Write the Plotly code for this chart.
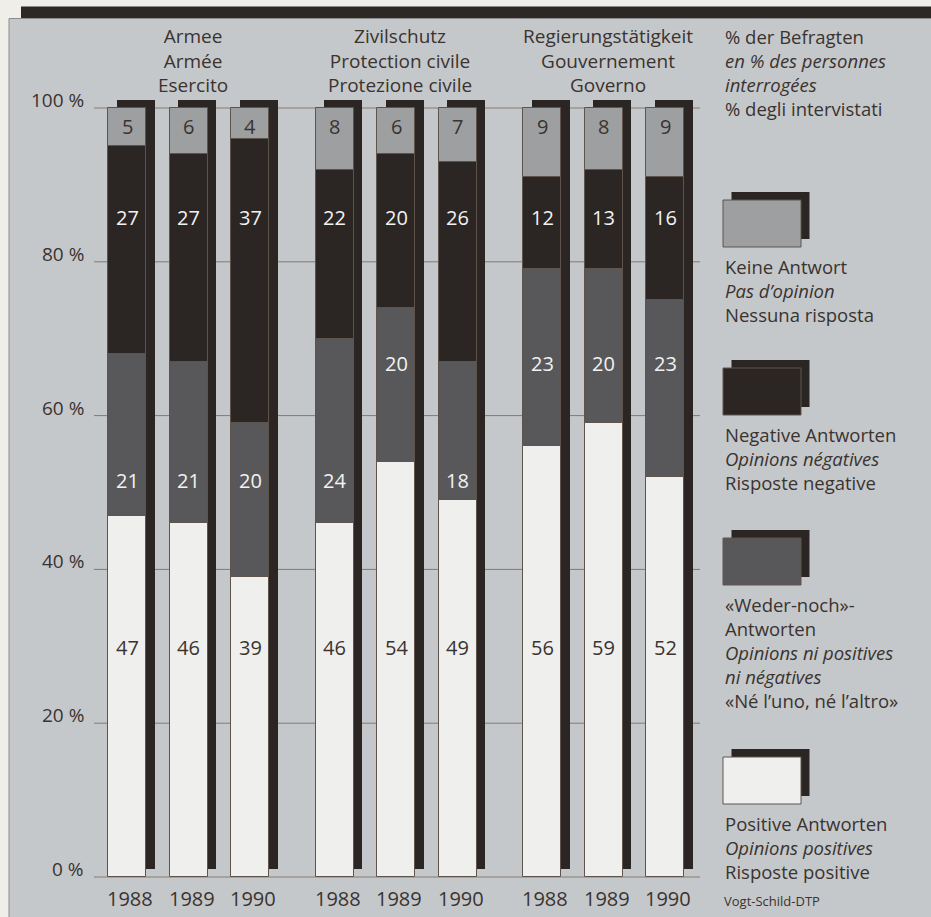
import plotly.graph_objects as go

# ---------------- data ----------------
groups_de = ["Armee", "Zivilschutz", "Regierungstätigkeit"]
groups_fr = ["Armée", "Protection civile", "Gouvernement"]
groups_it = ["Esercito", "Protezione civile", "Governo"]
years = ["1988", "1989", "1990"]

positive = [47, 46, 39, 46, 54, 49, 56, 59, 52]
neither = [21, 21, 20, 24, 20, 18, 23, 20, 23]
negative = [27, 27, 37, 22, 20, 26, 12, 13, 16]
no_answer = [5, 6, 4, 8, 6, 7, 9, 8, 9]

y_ticks = [0, 20, 40, 60, 80, 100]
y_tick_labels = ["0 %", "20 %", "40 %", "60 %", "80 %", "100 %"]

series_names = [
    ["Keine Antwort", "<i>Pas d’opinion</i>", "Nessuna risposta"],
    ["Negative Antworten", "<i>Opinions négatives</i>", "Risposte negative"],
    ["«Weder-noch»-", "Antworten", "<i>Opinions ni positives</i>", "<i>ni négatives</i>", "«Né l’uno, né l’altro»"],
    ["Positive Antworten", "<i>Opinions positives</i>", "Risposte positive"],
]
unit_lines = ["% der Befragten", "<i>en % des personnes</i>", "<i>interrogées</i>", "% degli intervistati"]
credit = "Vogt-Schild-DTP"

# ---------------- style / layout ----------------
W, H = 931, 917
Y0, PPU = 877.0, 7.69          # pixel of 0 %, pixels per percent


def pct(py):
    return (Y0 - py) / PPU


FONT = "Open Sans"
TXT = "#3a3330"
PAGE = "#efeee8"
PANEL = "#c5c8ca"
C_POS, C_NEI, C_NEG, C_NO = "#eff0ee", "#58585a", "#2b2523", "#9d9fa0"
SHADOW = "#2b2523"
OUTLINE = "#5e544c"
GRID = "#857a70"

BAR_W = 38
SHIFT_X, SHIFT_Y = 8.5, 8.0
FIRST_LEFT, STEP_BAR, STEP_GROUP = 108, 61.5, 207.5

n = len(positive)
centers = [FIRST_LEFT + BAR_W / 2 + STEP_GROUP * (k // 3) + STEP_BAR * (k % 3) for k in range(n)]

b_nei = [p for p in positive]
b_neg = [p + q for p, q in zip(positive, neither)]
b_no = [p + q + r for p, q, r in zip(positive, neither, negative)]
totals = [a + b for a, b in zip(b_no, no_answer)]

fig = go.Figure()

# shadows
fig.add_trace(go.Bar(
    x=[c + SHIFT_X for c in centers], y=totals, base=[SHIFT_Y / PPU] * n, width=BAR_W,
    marker=dict(color=SHADOW, line=dict(width=0)), hoverinfo="skip", showlegend=False))

for vals, base, col in [(positive, [0] * n, C_POS), (neither, b_nei, C_NEI),
                        (negative, b_neg, C_NEG), (no_answer, b_no, C_NO)]:
    fig.add_trace(go.Bar(
        x=centers, y=vals, base=base, width=BAR_W,
        marker=dict(color=col, line=dict(color=OUTLINE, width=1)),
        showlegend=False))

ann = []
shapes = []


def text_at(x, py, s, size, anchor="left", color=TXT):
    ann.append(dict(x=x, y=pct(py), xref="x", yref="y", text=s, showarrow=False,
                    xanchor=anchor, yanchor="middle",
                    font=dict(family=FONT, size=size, color=color)))


def block_at(x, py_first, lines, size, anchor="left"):
    # multi-line block; py_first = centre of first line (pixels)
    spacing = 1.3 * size
    centre = py_first + (len(lines) - 1) * spacing / 2
    ann.append(dict(x=x, y=pct(centre), xref="x", yref="y", text="<br>".join(lines),
                    showarrow=False, xanchor=anchor, yanchor="middle", align=anchor,
                    font=dict(family=FONT, size=size, color=TXT)))


# background panel and top band
shapes.append(dict(type="rect", xref="x", yref="y", x0=9, x1=W + 5, y0=pct(H + 5), y1=pct(18.5),
                   fillcolor=PANEL, line=dict(color="#8c8c8c", width=1), layer="below"))
shapes.append(dict(type="rect", xref="x", yref="y", x0=21, x1=W + 5, y0=pct(18), y1=pct(6.5),
                   fillcolor="#2d2826", line=dict(width=0), layer="below"))

# gridlines + tick labels
for t, lab in zip(y_ticks, y_tick_labels):
    shapes.append(dict(type="line", xref="x", yref="y", x0=94, x1=700, y0=t, y1=t,
                       line=dict(color=GRID, width=1), layer="below"))
    ann.append(dict(x=86, y=t, xref="x", yref="y", text=lab, showarrow=False,
                    xanchor="right", yanchor="middle", yshift=8,
                    font=dict(family=FONT, size=19, color=TXT)))

# value labels (fixed label heights as in the original)
label_y_pos = [29.9] * n
label_y_nei = [51.6, 51.6, 51.6, 51.6, 66.8, 51.6, 66.8, 66.8, 66.8]
label_y_neg = [85.8] * n
label_y_no = [97.6] * n
for k in range(n):
    for v, yy, col in [(positive[k], label_y_pos[k], TXT), (neither[k], label_y_nei[k], "#f2f2f2"),
                       (negative[k], label_y_neg[k], "#f2f2f2"), (no_answer[k], label_y_no[k], TXT)]:
        ann.append(dict(x=centers[k], y=yy, xref="x", yref="y", text=str(v), showarrow=False,
                        xanchor="center", yanchor="middle",
                        font=dict(family=FONT, size=20, color=col)))
    text_at(centers[k] + 3, 898, years[k % 3], 20, anchor="center")

# group titles
for g in range(3):
    gx = (centers[3 * g] - BAR_W / 2 + centers[3 * g + 2] + BAR_W / 2 + SHIFT_X) / 2
    block_at(gx, 36, [groups_de[g], groups_fr[g], groups_it[g]], 19, anchor="center")

# unit header
block_at(723, 36, unit_lines, 18.5)

# legend
sw_tops = [200, 368, 538, 757]
sw_cols = [C_NO, C_NEG, C_NEI, C_POS]
for top, col, names in zip(sw_tops, sw_cols, series_names):
    shapes.append(dict(type="rect", xref="x", yref="y", x0=723 + SHIFT_X, x1=801 + SHIFT_X,
                       y0=pct(top + 47 - SHIFT_Y), y1=pct(top - SHIFT_Y),
                       fillcolor=SHADOW, line=dict(width=0)))
    shapes.append(dict(type="rect", xref="x", yref="y", x0=723, x1=801,
                       y0=pct(top + 47), y1=pct(top),
                       fillcolor=col, line=dict(color=OUTLINE, width=1)))
    block_at(723, top + 47 + 19, names, 18.5)

text_at(722, 901, credit, 13)

fig.update_layout(
    width=W, height=H, autosize=False,
    margin=dict(l=0, r=0, t=0, b=0, pad=0),
    paper_bgcolor=PAGE, plot_bgcolor="rgba(0,0,0,0)",
    barmode="overlay", bargap=0,
    xaxis=dict(range=[0, W], visible=False, fixedrange=True),
    yaxis=dict(range=[pct(H), pct(0)], visible=False, fixedrange=True),
    shapes=shapes, annotations=ann, showlegend=False,
)

fig.write_html("out.html", config={"displayModeBar": False},
               post_script="document.body.style.margin='0px';document.body.style.background='#efeee8';")
